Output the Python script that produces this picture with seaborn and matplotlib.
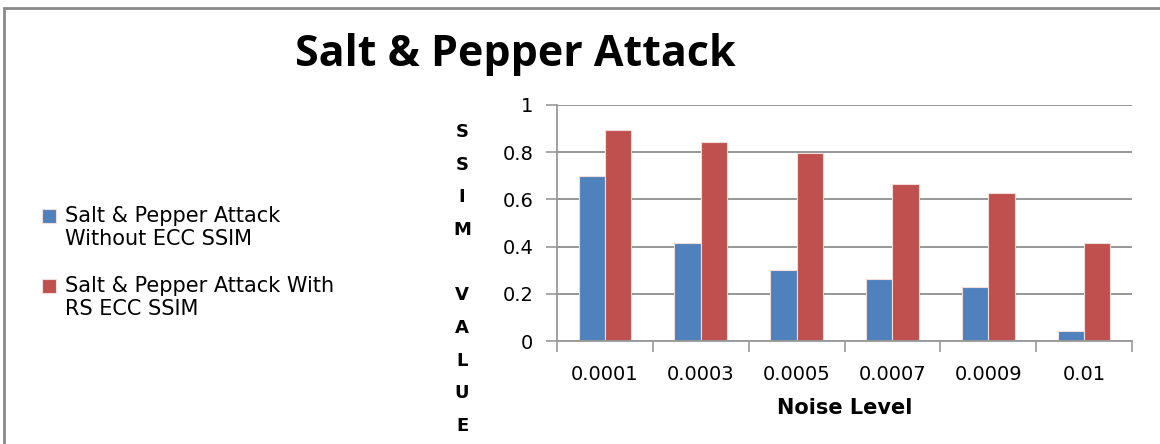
import matplotlib
matplotlib.use("Agg")
import matplotlib.pyplot as plt
import seaborn as sns
import pandas as pd
from matplotlib.patches import Rectangle
from matplotlib.legend_handler import HandlerPatch

noise_levels = ["0.0001", "0.0003", "0.0005", "0.0007", "0.0009", "0.01"]
without_ecc = [0.70, 0.415, 0.30, 0.264, 0.23, 0.044]
with_rs_ecc = [0.894, 0.843, 0.798, 0.667, 0.626, 0.414]
series_names = ["Salt & Pepper Attack\nWithout ECC SSIM",
                "Salt & Pepper Attack With\nRS ECC SSIM"]
y_ticks = [0, 0.2, 0.4, 0.6, 0.8, 1]
y_tick_labels = ["0", "0.2", "0.4", "0.6", "0.8", "1"]

df = pd.DataFrame({
    "Noise Level": noise_levels * 2,
    "SSIM": without_ecc + with_rs_ecc,
    "Series": [series_names[0]] * len(noise_levels) + [series_names[1]] * len(noise_levels),
})

sns.set_theme(style="white")
plt.rcParams["font.family"] = ["DejaVu Sans"]
plt.rcParams["text.color"] = "black"
plt.rcParams["axes.labelcolor"] = "black"

fig = plt.figure(figsize=(11.6, 4.44), dpi=100)
ax = fig.add_axes([557 / 1160, 1 - 341 / 444, (1132 - 557) / 1160, (341 - 105) / 444])

palette = {series_names[0]: "#4F81BD", series_names[1]: "#C0504D"}
sns.barplot(data=df, x="Noise Level", y="SSIM", hue="Series", order=noise_levels,
            hue_order=series_names, palette=palette, width=0.55, ax=ax,
            saturation=1, edgecolor="#f2dcdc", linewidth=0.8, legend=True)

ax.set_ylim(0, 1)
ax.set_xlim(-0.5, len(noise_levels) - 0.5)
ax.set_yticks(y_ticks)
ax.set_yticklabels(y_tick_labels)
ax.tick_params(axis="x", labelsize=14, length=0, pad=17, labelcolor="black")
ax.tick_params(axis="y", labelsize=14, length=8, width=1.2, color="#999999", pad=9,
               direction="out", left=True, labelcolor="black")
ax.set_xticks([i - 0.5 for i in range(len(noise_levels) + 1)], minor=True)
ax.tick_params(axis="x", which="minor", length=8, width=1.2, color="#999999",
               direction="out", bottom=True)

ax.yaxis.grid(True, color="#8f8f8f", linewidth=1.3)
ax.set_axisbelow(True)
for side in ["top", "right"]:
    ax.spines[side].set_visible(False)
for side in ["left", "bottom"]:
    ax.spines[side].set_color("#999999")
    ax.spines[side].set_linewidth(1.3)

ax.set_ylabel("")
ax.set_xlabel("Noise Level", fontsize=15, fontweight="bold", labelpad=10)

# vertically stacked axis title
fig.text(462 / 1160, 1 - 279 / 444, "S\nS\nI\nM\n\nV\nA\nL\nU\nE", ha="center", va="center",
         fontsize=13, fontweight="bold", linespacing=2.05)

fig.text(515 / 1160, 1 - 54 / 444, "Salt & Pepper Attack", ha="center", va="center",
         fontsize=31, fontweight="bold",
         family=["Liberation Sans Narrow", "Open Sans", "DejaVu Sans"])


def top_square(legend, orig_handle, xdescent, ydescent, width, height, fontsize):
    # square aligned with the first line of a two-line label
    return Rectangle((-xdescent, -ydescent + 0.6 * fontsize), width, height)


handles, labels = ax.get_legend_handles_labels()
ax.legend_.remove()
handler = HandlerPatch(patch_func=top_square)
fig.legend(handles, labels, loc="upper left", bbox_to_anchor=(42 / 1160, 1 - 206 / 444),
           frameon=False, fontsize=15, handlelength=0.65, handleheight=0.65,
           handletextpad=0.45, labelspacing=1.3, borderaxespad=0, borderpad=0,
           handler_map={h: handler for h in handles})

# outer chart frame
fig.patches.append(Rectangle((4 / 1160, -0.1), 1.2, 1 - 8 / 444 + 0.1, transform=fig.transFigure,
                             fill=False, edgecolor="#8a8a8a", linewidth=2))

fig.savefig("out.png", dpi=100)
